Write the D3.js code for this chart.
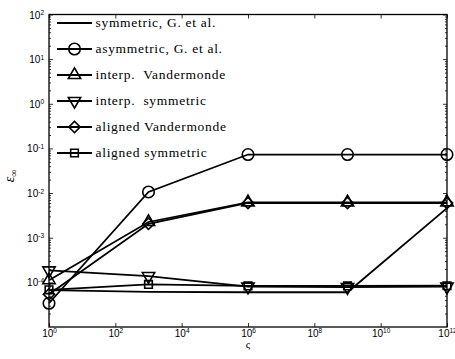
<!DOCTYPE html>
<html>
<head>
<meta charset="utf-8">
<script src="https://cdn.jsdelivr.net/npm/d3@7"></script>
<style>
body { margin:0; background:#fff; }
svg { display:block; }
.tick line { stroke:#000; }
</style>
</head>
<body>
<svg id="graph1"></svg>
<script>
// sampling values of zeta
var zeta = [1, 1e3, 1e6, 1e9, 1e12];

// error per method
var symmetricGE   = [6.7e-5, 6.1e-5, 6.0e-5, 6.0e-5, 4.6e-3];
var asymmetricGE  = [3.4e-5, 1.06e-2, 7.3e-2, 7.3e-2, 7.3e-2];
var interpVander  = [1.12e-4, 2.25e-3, 6.2e-3, 6.2e-3, 6.2e-3];
var interpSym     = [1.85e-4, 1.38e-4, 8.0e-5, 7.8e-5, 8.0e-5];
var alignedVander = [5.4e-5, 2.05e-3, 6.0e-3, 6.0e-3, 6.0e-3];
var alignedSym    = [6.8e-5, 9.0e-5, 8.3e-5, 8.3e-5, 8.4e-5];

var legendNames = ["symmetric, G. et al.", "asymmetric, G. et al.", "interp.\u00a0 Vandermonde",
                   "interp.\u00a0 symmetric", "aligned Vandermonde", "aligned symmetric"];
var markerTypes = ["none", "circle", "up", "down", "diamond", "square"];

var xTicks = [1, 1e2, 1e4, 1e6, 1e8, 1e10, 1e12];
var yTicks = [1e-4, 1e-3, 1e-2, 1e-1, 1, 10, 100];

var screen = {width:455, height:359};
var margins = {top:14.5, bottom:32, left:49, right:8};

var svg = d3.select("#graph1")
    .attr("width", screen.width)
    .attr("height", screen.height);

var width = screen.width - margins.left - margins.right;
var height = screen.height - margins.top - margins.bottom;

var xScale = d3.scaleLog()
    .domain([1, 1e12])
    .range([margins.left, margins.left + width]);

var yScale = d3.scaleLog()
    .domain([1e-5, 1e2])
    .range([margins.top + height, margins.top]);

// minor ticks for y (2..9 per decade)
var yMinor = [];
for (var e = -5; e < 2; e++) {
    for (var m = 2; m < 10; m++) yMinor.push(m * Math.pow(10, e));
}

var drawAxis = function(axis, translate)
{
    var g = svg.append("g")
        .attr("transform", translate)
        .call(axis);
    g.select(".domain").remove();
    g.selectAll("line").attr("stroke", "#000").attr("stroke-width", 0.8);
    return g;
}

// minor y ticks left and right
drawAxis(d3.axisLeft(yScale).tickValues(yMinor).tickSize(-2).tickFormat(""), "translate(" + margins.left + ",0)");
drawAxis(d3.axisRight(yScale).tickValues(yMinor).tickSize(-2).tickFormat(""), "translate(" + (margins.left + width) + ",0)");

// major ticks
var yLeft = drawAxis(d3.axisLeft(yScale).tickValues(yTicks).tickSize(-4).tickPadding(5).tickFormat(""), "translate(" + margins.left + ",0)");
drawAxis(d3.axisRight(yScale).tickValues(yTicks).tickSize(-4).tickFormat(""), "translate(" + (margins.left + width) + ",0)");
var xBottom = drawAxis(d3.axisBottom(xScale).tickValues(xTicks).tickSize(-4).tickPadding(6).tickFormat(""), "translate(0," + (margins.top + height) + ")");
drawAxis(d3.axisTop(xScale).tickValues(xTicks).tickSize(-4).tickFormat(""), "translate(0," + margins.top + ")");

var powerLabel = function(sel)
{
    sel.each(function(d) {
        var t = d3.select(this);
        t.text("");
        t.append("tspan").text("10");
        t.append("tspan")
            .attr("dy", "-0.55em")
            .attr("font-size", "6.5px")
            .text(Math.round(Math.log10(d)));
    });
}

xBottom.selectAll(".tick text")
    .attr("font-family", "Liberation Sans, Arial, sans-serif")
    .attr("font-size", "10px")
    .attr("fill", "#000")
    .attr("y", 9.5)
    .attr("dy", 0)
    .attr("text-anchor", "middle")
    .call(powerLabel);

yLeft.selectAll(".tick text")
    .attr("font-family", "Liberation Sans, Arial, sans-serif")
    .attr("font-size", "10px")
    .attr("fill", "#000")
    .attr("x", -5)
    .attr("dy", "0.35em")
    .attr("text-anchor", "end")
    .call(powerLabel);

// box around plot
svg.append("rect")
    .attr("x", margins.left)
    .attr("y", margins.top)
    .attr("width", width)
    .attr("height", height)
    .attr("fill", "none")
    .attr("stroke", "#000")
    .attr("stroke-width", 1.3);

// axis labels
svg.append("text")
    .attr("x", xScale(1e6))
    .attr("y", 348)
    .attr("text-anchor", "middle")
    .attr("font-family", "Liberation Serif, serif")
    .attr("font-size", "11px")
    .text("\u03c2");

var yl = svg.append("text")
    .attr("transform", "translate(14,176) rotate(-90)")
    .attr("text-anchor", "middle")
    .attr("font-family", "Liberation Serif, serif")
    .attr("font-style", "italic")
    .attr("font-size", "14px");
yl.append("tspan").text("\u03b5");
yl.append("tspan").attr("dy", "3").attr("font-size", "10px").attr("font-style", "normal").text("\u221e");

var allSeries = [symmetricGE, asymmetricGE, interpVander, interpSym, alignedVander, alignedSym];

var markerPath = function(type)
{
    if (type == "circle") return d3.symbol(d3.symbolCircle, 104)();
    if (type == "up") return d3.symbol(d3.symbolTriangle, 66)();
    if (type == "down") return d3.symbol(d3.symbolTriangle, 66)();
    if (type == "diamond") return d3.symbol(d3.symbolSquare, 64)();
    if (type == "square") return d3.symbol(d3.symbolSquare, 58)();
    return null;
}

var markerRot = function(type)
{
    if (type == "down") return " rotate(180)";
    if (type == "diamond") return " rotate(45)";
    return "";
}

var line = d3.line()
    .x(function(d, i) { return xScale(zeta[i]); })
    .y(function(d) { return yScale(d); });

var plot = svg.append("g").attr("class", "graph");

allSeries.forEach(function(vals, k) {
    plot.append("path")
        .datum(vals)
        .attr("d", line)
        .attr("fill", "none")
        .attr("stroke", "#000")
        .attr("stroke-width", 1.8);
    if (markerTypes[k] != "none") {
        plot.selectAll(".m" + k)
            .data(vals)
            .enter()
            .append("path")
            .attr("class", "m" + k)
            .attr("d", markerPath(markerTypes[k]))
            .attr("transform", function(d, i) {
                return "translate(" + xScale(zeta[i]) + "," + yScale(d) + ")" + markerRot(markerTypes[k]);
            })
            .attr("fill", "none")
            .attr("stroke", "#000")
            .attr("stroke-width", 1.6);
    }
});

// legend
var legend = svg.append("g").attr("class", "legend");
var rows = legend.selectAll("g")
    .data(legendNames)
    .enter()
    .append("g")
    .attr("transform", function(d, i) { return "translate(57," + (23 + i * 26) + ")"; });

rows.append("line")
    .attr("x1", 0).attr("x2", 35)
    .attr("y1", 0).attr("y2", 0)
    .attr("stroke", "#000")
    .attr("stroke-width", 1.8);

rows.filter(function(d, i) { return markerTypes[i] != "none"; })
    .append("path")
    .attr("d", function(d, i) { return markerPath(markerTypes[legendNames.indexOf(d)]); })
    .attr("transform", function(d) { return "translate(17.5,0)" + markerRot(markerTypes[legendNames.indexOf(d)]); })
    .attr("fill", "none")
    .attr("stroke", "#000")
    .attr("stroke-width", 1.6);

rows.append("text")
    .attr("x", 38.5)
    .attr("y", 0)
    .attr("dy", "0.32em")
    .attr("font-family", "Liberation Serif, serif")
    .attr("font-size", "13.5px")
    .attr("letter-spacing", "0.7px")
    .text(function(d) { return d; });
</script>
</body>
</html>
